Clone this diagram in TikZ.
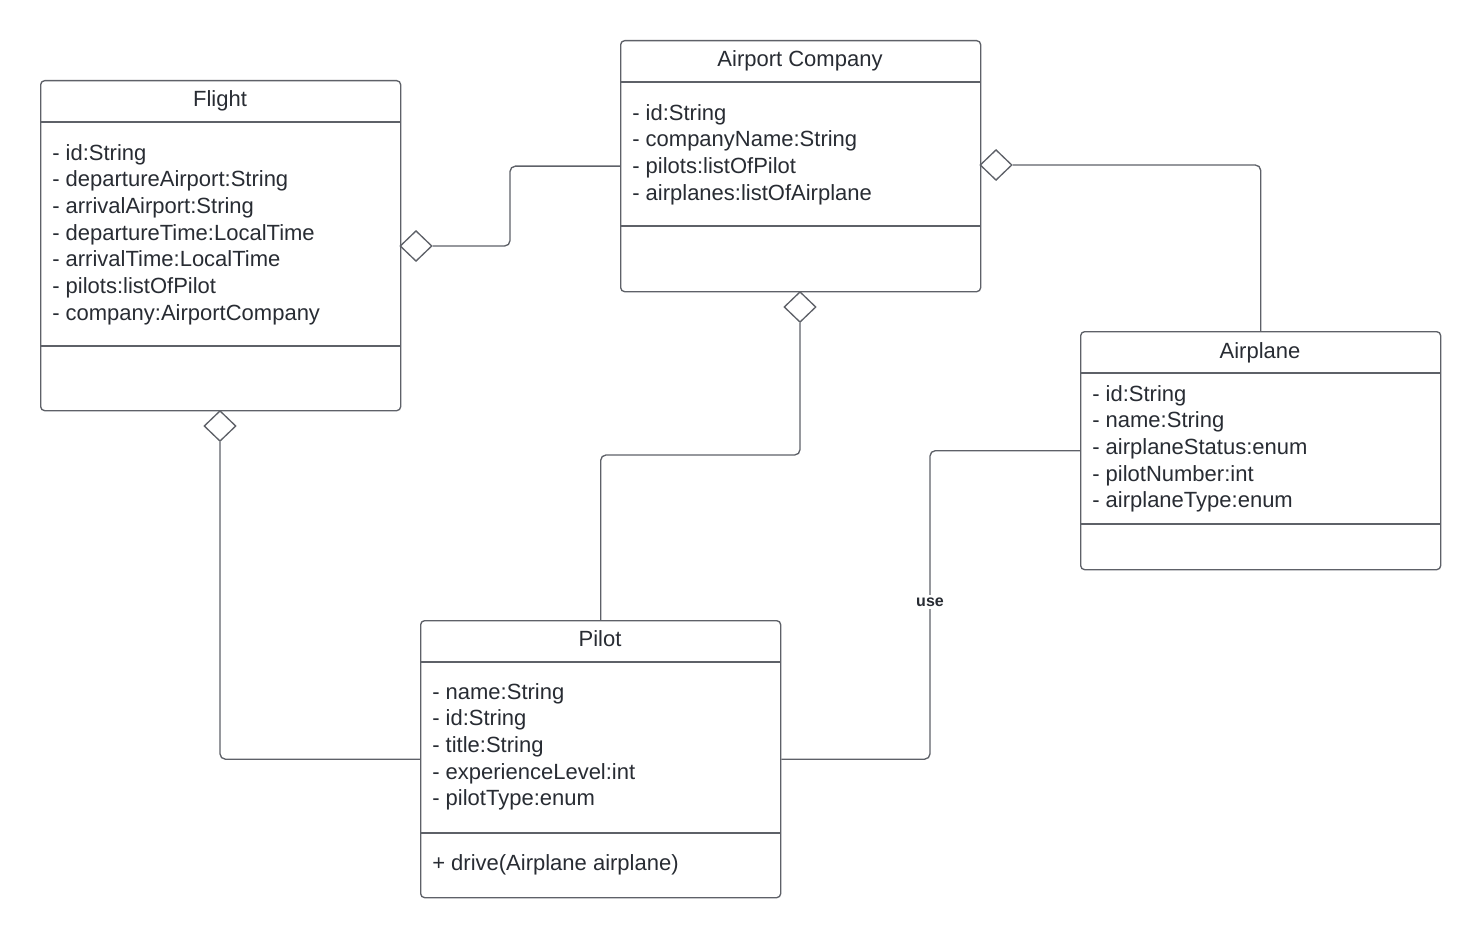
\documentclass[tikz,border=0pt]{standalone}
\usepackage{fontspec}
\setmainfont{Liberation Sans}
\usetikzlibrary{shapes.geometric}
\definecolor{ln}{HTML}{5E6168}
\definecolor{tx}{HTML}{282C33}
\begin{document}
\begin{tikzpicture}[x=0.75pt,y=-0.75pt,
 cls/.style={draw=ln, line width=1pt, rounded corners=3pt, anchor=north west, minimum width=270pt, inner sep=0, fill=white},
 ttl/.style={anchor=base, text=tx, font=\fontsize{16.5}{20}\selectfont, inner sep=0},
 attr/.style={anchor=north west, align=left, text=tx, font=\fontsize{16.5}{20}\selectfont, inner sep=0},
 sep/.style={draw=ln, line width=0.9pt},
 conn/.style={draw=ln, line width=1pt, rounded corners=4pt},
 agg/.style={diamond, draw=ln, line width=1pt, fill=white, minimum width=24pt, minimum height=23pt, inner sep=0, aspect=1},
 lbl/.style={fill=white, text=tx, font=\fontsize{12}{14}\selectfont\bfseries, inner sep=2pt}
]
\useasboundingbox (0,0) rectangle (1480,938);

% Flight
\node[cls, minimum height=247.5pt] (flight) at (40,80) {};
\node[ttl] (flightT) at (220,107) {Flight};
\draw[sep] (40,122) -- (400,122);
\node[attr] (flightA) at (52,144) {- id:String\\- departureAirport:String\\- arrivalAirport:String\\- departureTime:LocalTime\\- arrivalTime:LocalTime\\- pilots:listOfPilot\\- company:AirportCompany};
\draw[sep] (40,346) -- (400,346);

% Airport Company
\node[cls, minimum height=188.25pt] (ac) at (620,40) {};
\node[ttl] (acT) at (800,67) {Airport Company};
\draw[sep] (620,82) -- (980,82);
\node[attr] (acA) at (632,104) {- id:String\\- companyName:String\\- pilots:listOfPilot\\- airplanes:listOfAirplane};
\draw[sep] (620,226) -- (980,226);

% Airplane
\node[cls, minimum height=178.5pt] (ap) at (1080,331) {};
\node[ttl] (apT) at (1260,358) {Airplane};
\draw[sep] (1080,373) -- (1440,373);
\node[attr] (apA) at (1092,385) {- id:String\\- name:String\\- airplaneStatus:enum\\- pilotNumber:int\\- airplaneType:enum};
\draw[sep] (1080,524) -- (1440,524);

% Pilot
\node[cls, minimum height=207.75pt] (pi) at (420,620) {};
\node[ttl] (piT) at (600,646) {Pilot};
\draw[sep] (420,662) -- (780,662);
\node[attr] (piA) at (432,683) {- name:String\\- id:String\\- title:String\\- experienceLevel:int\\- pilotType:enum};
\draw[sep] (420,833) -- (780,833);
\node[attr] (piM) at (432,854) {+ drive(Airplane airplane)};

% helper coordinates
\coordinate (k1) at (510,0);
\coordinate (k2) at (0,455);
\coordinate (k3) at (930,0);

% aggregation diamonds
\node[agg] (d1) at (416,246) {};
\node[agg] (d2) at (996,165) {};
\node[agg] (d3) at (800,307) {};
\node[agg] (d4) at (220,426) {};

% connectors
\draw[conn] (d1.east) -- (d1.east -| k1) |- (ac.west);
\draw[conn] (d2.east) -| (ap.north);
\draw[conn] (d3.south) -- (d3.south |- k2) -| (pi.north);
\draw[conn] (d4.south) |- (pi.west);
\draw[conn] (pi.east) -- (pi.east -| k3) |- (ap.west);
\node[lbl] (use) at (930,602) {use};
\end{tikzpicture}
\end{document}
